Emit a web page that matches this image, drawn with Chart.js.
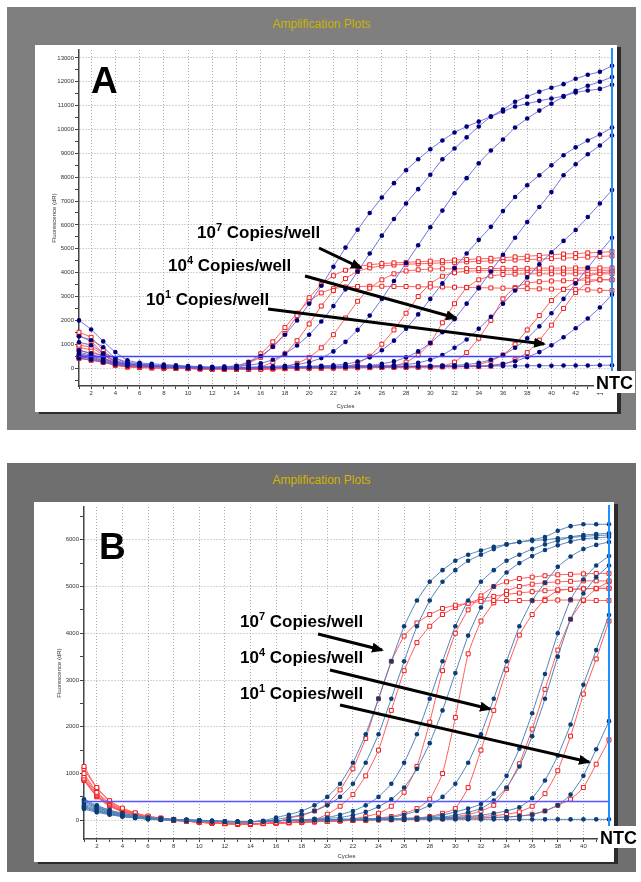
<!DOCTYPE html>
<html>
<head>
<meta charset="utf-8">
<script src="https://cdn.jsdelivr.net/npm/chart.js@4.4.0/dist/chart.umd.min.js"></script>
<style>
body{margin:0;background:#fff;width:641px;height:882px;position:relative;overflow:hidden;font-family:"Liberation Sans",Arial,sans-serif}
.gray{position:absolute;left:7px;width:629px}
.ttl{position:absolute;left:0;width:100%;text-align:center;color:#c9b300;font-size:12px}
.plot{position:absolute;background:#fff;box-shadow:4px 2px 0 #2b2b2b}
canvas{position:absolute;left:0;top:0}
#ov{position:absolute;left:0;top:0}
</style>
</head>
<body>
<div class="gray" style="top:7px;height:423px;background:#7f7f7f"><div class="ttl" style="top:10px">Amplification Plots</div></div>
<div class="gray" style="top:463px;height:409px;background:#6f6f6f"><div class="ttl" style="top:10px;color:#d2b300">Amplification Plots</div></div>
<div class="plot" style="left:35px;top:45px;width:582px;height:367px"><canvas id="chartA" width="582" height="367"></canvas></div>
<div class="plot" style="left:34px;top:502px;width:580px;height:360px"><canvas id="chartB" width="580" height="360"></canvas></div>

<svg id="ov" width="641" height="882" font-family="Liberation Sans, Arial, sans-serif" font-weight="bold">
  <defs>
    <marker id="ah" markerWidth="12" markerHeight="10" refX="10" refY="5" orient="auto" markerUnits="userSpaceOnUse">
      <path d="M0,0 L12,5 L0,10 z" fill="#000"/>
    </marker>
  </defs>
  <text x="91" y="93" font-size="37">A</text>
  <text x="99" y="559" font-size="37">B</text>

  <text x="197" y="238" font-size="17">10<tspan font-size="11" dy="-7">7</tspan><tspan dy="7"> Copies/well</tspan></text>
  <text x="168" y="271" font-size="17">10<tspan font-size="11" dy="-7">4</tspan><tspan dy="7"> Copies/well</tspan></text>
  <text x="146" y="305" font-size="17">10<tspan font-size="11" dy="-7">1</tspan><tspan dy="7"> Copies/well</tspan></text>
  <line x1="319" y1="248" x2="361" y2="268" stroke="#000" stroke-width="3" marker-end="url(#ah)"/>
  <line x1="305" y1="276" x2="456" y2="318" stroke="#000" stroke-width="3" marker-end="url(#ah)"/>
  <line x1="268" y1="309" x2="544" y2="344" stroke="#000" stroke-width="3" marker-end="url(#ah)"/>

  <text x="240" y="627" font-size="17">10<tspan font-size="11" dy="-7">7</tspan><tspan dy="7"> Copies/well</tspan></text>
  <text x="240" y="663" font-size="17">10<tspan font-size="11" dy="-7">4</tspan><tspan dy="7"> Copies/well</tspan></text>
  <text x="240" y="699" font-size="17">10<tspan font-size="11" dy="-7">1</tspan><tspan dy="7"> Copies/well</tspan></text>
  <line x1="318" y1="634" x2="382" y2="650" stroke="#000" stroke-width="3" marker-end="url(#ah)"/>
  <line x1="330" y1="670" x2="490" y2="709" stroke="#000" stroke-width="3" marker-end="url(#ah)"/>
  <line x1="340" y1="705" x2="589" y2="762" stroke="#000" stroke-width="3" marker-end="url(#ah)"/>

  <rect x="594" y="371" width="41" height="22" fill="#fff"/>
  <text x="596" y="389" font-size="18">NTC</text>
  <rect x="598" y="826" width="40" height="22" fill="#fff"/>
  <text x="600" y="844" font-size="18">NTC</text>
</svg>

<script>
// ---------- panel A ----------
const aCycles = [1,2,3,4,5,6,7,8,9,10,11,12,13,14,15,16,17,18,19,20,21,22,23,24,25,26,27,28,29,30,31,32,33,34,35,36,37,38,39,40,41,42,43,44,45];
const aYTicks = [-500,0,500,1000,1500,2000,2500,3000,3500,4000,4500,5000,5500,6000,6500,7000,7500,8000,8500,9000,9500,10000,10500,11000,11500,12000,12500,13000];
const aThreshold = 500;

const aBlue1 = [2000,1620,1120,670,330, 220,180,150,120,90, 60,50,60,100,250, 500,900,1400,2000,2700, 3450,4250,5050,5800,6500, 7150,7750,8290,8750,9170, 9540,9875,10120,10330,10540, 10750,10960,11080,11200,11300, 11400,11550,11630,11700,11875];
const aBlue2 = [1330,1170,875,420,200, 150,120,100,80,60, 40,30,50,80,120, 200,350,600,950,1400, 1950,2600,3300,4050,4800, 5550,6250,6900,7500,8100, 8750,9200,9670,10125,10540, 10830,11160,11375,11580,11750, 11900,12125,12290,12420,12670];
const aBlue3 = [1080,960,625,420,250, 180,130,100,80,60, 40,20,20,30,40, 60,80,100,150,250, 420,700,1100,1600,2200, 2900,3650,4400,5150,5900, 6600,7330,7960,8580,9120, 9580,10080,10460,10790,11080, 11375,11625,11830,12000,12200];
const aBlue4 = [750,625,540,300,200, 150,110,90,70,50, 30,10,0,10,20, 30,40,50,60,80, 100,120,170,270,450, 750,1150,1650,2250,2900, 3550,4200,4800,5375,5920, 6580,7170,7660,8080,8500, 8920,9250,9540,9790,10080];
const aBlue5 = [670,540,420,210,150, 120,100,80,60,40, 20,0,-10,0,10, 20,30,40,50,60, 70,80,90,100,110, 180,280,450,700,1050, 1500,2050,2700,3350,4050, 4750,5460,6125,6750,7375, 8080,8540,8960,9330,9750];
const aBlue6 = [600,500,380,250,170, 130,100,80,60,40, 20,10,0,0,10, 20,30,40,50,60, 60,70,80,90,100, 110,120,150,220,350, 550,850,1200,1650,2150, 2700,3250,3800,4350,4850, 5330,5790,6330,6900,7460];
const aBlue7 = [540,450,330,200,140, 110,90,70,50,30, 10,0,-10,0,10, 20,30,30,40,40, 50,50,60,60,70, 70,80,80,90,100, 110,120,150,220,350, 550,850,1250,1750,2300, 2900,3550,4200,4850,5460];
const aBlue8 = [480,400,300,180,120, 100,80,60,40,20, 0,-10,-10,0,10, 20,20,30,30,40, 40,50,50,50,60, 60,60,70,70,70, 80,80,80,90,120, 180,290,460,670,960, 1290,1670,2080,2540,3080];
const aBlueNtc = [420,350,250,150,100, 80,60,40,20,10, 0,-10,-20,-10,0, 10,20,20,30,30, 40,40,50,50,50, 60,60,60,70,70, 70,80,80,80,90, 90,90,100,100,100, 110,110,110,120,120];

const aRed1 = [1500,1290,750,350,130, 80,50,30,10,0, -10,-30,-40,-20,220, 450,900,1450,2200,2950, 3500,3870,4100,4250,4330, 4380,4410,4430,4460,4480, 4500,4530,4550,4580,4600, 4630,4660,4690,4720,4750, 4780,4800,4830,4850,4880];
const aRed2 = [1375,1100,620,300,110, 70,40,20,10,-10, -20,-40,-50,-50,-30, 50,250,600,1150,1850, 2600,3250,3750,4050,4200, 4280,4320,4350,4370,4390, 4410,4430,4450,4470,4490, 4510,4530,4550,4570,4590, 4610,4630,4650,4680,4700];
const aRed3 = [960,875,540,250,100, 60,30,20,0,-10, -30,-50,-60,-60,-50, -40,-20,50,200,450, 850,1400,2100,2800,3350, 3700,3950,4070,4120,4150, 4160,4160,4170,4170,4170, 4180,4180,4180,4190,4190, 4190,4200,4200,4200,4200];
const aRed4 = [875,750,450,220,90, 50,30,10,0,-10, -20,-30,-40,60,250, 600,1100,1700,2300,2800, 3150,3330,3400,3420,3430, 3430,3420,3420,3410,3400, 3400,3390,3380,3370,3360, 3350,3340,3330,3320,3310, 3300,3290,3280,3260,3250];
const aRed5 = [750,600,400,200,80, 50,30,10,0,-10, -20,-40,-50,-60,-50, -40,-30,-20,-10,0, 10,30,60,200,500, 1000,1600,2300,3000,3540, 3850,4000,4060,4080,4090, 4090,4100,4100,4100,4100, 4100,4100,4100,4100,4100];
const aRed6 = [540,480,300,150,60, 40,20,10,0,-10, -20,-30,-40,-50,-50, -40,-30,-20,-10,0, 0,10,10,20,30, 40,80,250,550,1050, 1900,2700,3370,3700,3860, 3920,3940,3950,3950,3950, 3950,3950,3950,3950,3950];
const aRed7 = [460,400,260,130,50, 30,20,0,-10,-20, -30,-40,-50,-50,-50, -40,-30,-20,-10,0, 0,10,10,20,20, 30,30,40,40,50, 80,250,650,1250,2000, 2900,3370,3560,3620,3650, 3660,3680,3690,3700,3700];
const aRed8 = [420,330,250,125,50, 30,10,0,-10,-20, -30,-40,-40,-50,-40, -30,-20,-10,0,0, 10,10,20,20,30, 30,40,40,50,50, 60,60,70,150,300, 550,1000,1600,2200,2830, 3300,3600,3850,3980,4050];
const aRed9 = [400,330,240,120,50, 20,10,0,-10,-20, -30,-30,-40,-40,-40, -30,-20,-10,0,0, 10,10,20,20,20, 30,30,30,40,40, 50,50,60,60,80, 150,350,650,1170,1800, 2500,3170,3580,3700,3700];

// ---------- panel B ----------
const bCycles = [1,2,3,4,5,6,7,8,9,10,11,12,13,14,15,16,17,18,19,20,21,22,23,24,25,26,27,28,29,30,31,32,33,34,35,36,37,38,39,40,41,42];
const bYTicks = [0,500,1000,1500,2000,2500,3000,3500,4000,4500,5000,5500,6000,6500];
const bThreshold = 420;

const bBlue1 = [450,320,220,150,100, 60,40,20,10,0, -10,-20,-30,-30,-10, 60,120,200,320,500, 780,1230,1840,2600,3400, 4150,4700,5100,5350,5550, 5680,5770,5850,5900,5950, 5980,6000,6030,6050,6070, 6090,6100];
const bBlue2 = [420,300,210,140,90, 60,40,20,10,0, -10,-20,-30,-30,-20, 20,60,120,200,320, 500,780,1230,1840,2600, 3400,4150,4700,5100,5350, 5550,5680,5800,5900,5950, 6000,6060,6190,6290,6330, 6330,6330];
const bBlue3 = [380,270,190,130,80, 50,30,20,10,0, -10,-20,-30,-30,-20, -10,0,10,30,60, 120,200,320,500,780, 1230,1840,2600,3400,4150, 4700,5100,5350,5550,5680, 5800,5900,5980,6060,6100, 6120,6140];
const bBlue4 = [350,250,170,110,70, 40,30,10,0,-10, -20,-30,-30,-30,-20, -10,0,10,20,40, 60,110,180,290,450, 700,1100,1650,2350,3150, 3950,4550,5000,5300,5500, 5650,5780,5880,5960,6020, 6040,6060];
const bBlue5 = [320,230,160,100,60, 40,20,10,0,-10, -20,-30,-30,-30,-20, -10,0,0,10,10, 20,20,30,40,60, 120,200,320,500,780, 1230,1840,2600,3400,4150, 4700,5080,5420,5640,5800, 5890,5950];
const bBlue6 = [300,210,150,90,60, 30,20,10,0,-10, -20,-30,-30,-30,-20, -10,0,0,10,10, 20,20,30,30,30, 40,50,70,110,180, 250,350,570,950,1530, 2290,3130,4000,4720,5150, 5450,5650];
const bBlue7 = [280,200,140,90,50, 30,20,0,-10,-10, -20,-30,-30,-30,-20, -10,0,0,10,10, 20,20,30,30,30, 40,40,50,70,110, 170,250,420,700,1150, 1800,2600,3500,4300,4850, 5200,5450];
const bBlue8 = [260,190,130,80,50, 30,10,0,-10,-10, -20,-30,-30,-30,-20, -10,0,0,10,10, 20,20,20,30,30, 30,40,40,50,60, 80,110,150,200,280, 470,850,1380,2050,2900, 3640,4390];
const bBlue9 = [240,170,120,80,50, 20,10,0,-10,-20, -20,-30,-30,-30,-20, -10,0,0,0,10, 10,20,20,20,30, 30,30,40,40,40, 50,50,60,70,90, 120,200,320,550,950, 1520,2120];
const bBlueNtc = [420,280,190,120,70, 40,20,10,0,-10, -20,-30,-30,-30,-20, -10,-10,0,0,0, 10,10,10,10,10, 10,20,20,20,20, 20,20,20,20,20, 20,20,20,20,20, 20,20];

const bRed1 = [1150,700,420,260,160, 90,50,20,0,-20, -40,-60,-70,-70,-60, -40,50,100,200,350, 650,1100,1750,2600,3400, 3940,4220,4400,4530,4600, 4640,4680,4700,4700,4700, 4700,4700,4710,4710,4710, 4700,4700];
const bRed2 = [1100,680,400,250,150, 80,40,10,-10,-30, -50,-70,-80,-80,-70, -60,-40,-20,10,130, 300,550,950,1500,2350, 3200,3800,4150,4400,4550, 4650,4730,4790,4830,4860, 4890,4910,4930,4940,4950, 4960,4960];
const bRed3 = [1000,600,370,230,140, 80,40,10,-10,-30, -50,-70,-80,-80,-70, -60,-50,-40,-30,-20, 0,30,80,150,300, 600,1150,2100,3200,4000, 4500,4800,5000,5100,5170, 5200,5230,5250,5260,5270, 5280,5280];
const bRed4 = [950,570,350,220,130, 70,30,0,-20,-40, -60,-70,-80,-80,-70, -60,-50,-40,-30,-20, -10,0,20,50,80, 150,250,450,1000,2200, 3560,4260,4650,4900,5000, 5050,5080,5100,5110,5120, 5120,5120];
const bRed5 = [900,540,330,200,120, 60,30,0,-20,-40, -60,-70,-80,-80,-70, -60,-50,-40,-30,-20, -10,0,10,20,30, 40,50,80,150,250, 700,1500,2350,3220,3960, 4400,4730,4910,4940,4950, 4960,4960];
const bRed6 = [880,530,320,200,120, 60,30,0,-20,-40, -60,-70,-80,-80,-70, -60,-50,-40,-30,-20, -10,0,10,20,20, 30,40,50,60,80, 120,200,320,680,1210, 1950,2800,3640,4300,4700, 4950,5100];
const bRed8 = [860,520,310,190,110, 60,30,0,-20,-40, -60,-70,-80,-80,-70, -60,-50,-40,-30,-20, -10,0,10,10,20, 20,30,40,50,60, 70,80,100,130,180, 300,570,1060,1800,2700, 3450,4260];
const bRed9 = [850,500,300,180,110, 50,20,0,-20,-40, -60,-70,-80,-80,-70, -60,-50,-40,-30,-20, -10,0,0,10,10, 20,20,30,30,40, 40,50,60,70,90, 130,200,320,450,700, 1200,1720];

const FONT = '"Liberation Sans", Arial, sans-serif';

function blueSet(data, dot, line) {
  return {data, borderColor: line, borderWidth: 1, pointBackgroundColor: dot, pointBorderColor: dot,
    pointRadius: 2.3, pointBorderWidth: 0, pointStyle: 'circle', tension: 0.15, clip: 8, order: 1};
}
function redSet(data) {
  return {data, borderColor: '#ff5a5a', borderWidth: 1, pointBackgroundColor: '#fff', pointBorderColor: '#ee1c1c',
    pointRadius: 2.8, pointBorderWidth: 1, pointStyle: 'rect', tension: 0.15, clip: 8, order: 2};
}

// threshold line and the last-cycle marker line
const marks = {
  id: 'marks',
  afterDatasetsDraw(chart, args, opts) {
    const {ctx, chartArea: a, scales: {x, y}} = chart;
    ctx.save();
    const ty = Math.round(y.getPixelForValue(opts.threshold)) + 0.5;
    ctx.strokeStyle = opts.thColor; ctx.lineWidth = 1.6;
    ctx.beginPath(); ctx.moveTo(a.left, ty); ctx.lineTo(a.right, ty); ctx.stroke();
    const vx = x.getPixelForValue(chart.data.labels.length - 1);
    ctx.strokeStyle = '#1e90ff'; ctx.lineWidth = 2;
    ctx.beginPath(); ctx.moveTo(vx, a.top - 2); ctx.lineTo(vx, a.bottom); ctx.stroke();
    ctx.restore();
  }
};

function makeChart(id, cycles, yTicks, yMin, yMax, yWidth, xHeight, pad, titlePad, threshold, thColor, datasets) {
  return new Chart(document.getElementById(id), {
    type: 'line',
    data: {labels: cycles, datasets},
    options: {
      responsive: false, animation: false, events: [],
      layout: {padding: pad},
      plugins: {legend: {display: false}, tooltip: {enabled: false}, marks: {threshold, thColor}},
      scales: {
        x: {
          type: 'category', offset: false,
          grid: {color: c => cycles[c.index] % 2 === 0 && c.index > 0 ? '#a9a9a9' : 'rgba(0,0,0,0)',
                 tickColor: '#444', tickLength: 3, lineWidth: 1},
          border: {color: '#444', width: 1.5, dash: [1, 2]},
          ticks: {autoSkip: false, maxRotation: 0, padding: 1, color: '#333', font: {size: 6, family: FONT},
                  callback: (v, i) => cycles[i] % 2 === 0 ? String(cycles[i]) : ''},
          title: {display: true, text: 'Cycles', color: '#333', font: {size: 6, family: FONT}, padding: {top: 1, bottom: 2}},
          afterFit: s => { s.height = xHeight; }
        },
        y: {
          min: yMin, max: yMax,
          afterBuildTicks: ax => { ax.ticks = yTicks.map(v => ({value: v})); },
          grid: {color: c => c.tick && c.tick.value % 1000 === 0 ? '#a9a9a9' : 'rgba(0,0,0,0)',
                 tickColor: '#444', tickLength: 4, lineWidth: 1},
          border: {color: '#444', width: 1.5, dash: [1, 2]},
          ticks: {autoSkip: false, padding: 1, color: '#333', font: {size: 6, family: FONT},
                  callback: v => v % 1000 === 0 ? String(v) : ''},
          title: {display: true, text: 'Fluorescence (dR)', color: '#333', font: {size: 6, family: FONT}, padding: {top: titlePad, bottom: 0}},
          afterFit: s => { s.width = yWidth; }
        }
      }
    },
    plugins: [marks]
  });
}

const aBlueDot = '#00007a', aBlueLine = 'rgba(95,95,215,0.9)';
const aSets = [aRed1, aRed2, aRed3, aRed4, aRed5, aRed6, aRed7, aRed8, aRed9].map(redSet)
  .concat([aBlue1, aBlue2, aBlue3, aBlue4, aBlue5, aBlue6, aBlue7, aBlue8, aBlueNtc].map(d => blueSet(d, aBlueDot, aBlueLine)));
makeChart('chartA', aCycles, aYTicks, -750, 13330, 44, 26, {left: 0, right: 3, top: 3, bottom: 0}, 16, aThreshold, '#4040ff', aSets);

const bBlueDot = '#0c3d78', bBlueLine = '#5282b8';
const bSets = [bRed1, bRed2, bRed3, bRed4, bRed5, bRed6, bRed8, bRed9].map(redSet)
  .concat([bBlue1, bBlue2, bBlue3, bBlue4, bBlue5, bBlue6, bBlue7, bBlue8, bBlue9, bBlueNtc].map(d => blueSet(d, bBlueDot, bBlueLine)));
makeChart('chartB', bCycles, bYTicks, -400, 6700, 50, 23, {left: 0, right: 4, top: 3, bottom: 0}, 22, bThreshold, '#5555ff', bSets);
</script>
</body>
</html>
